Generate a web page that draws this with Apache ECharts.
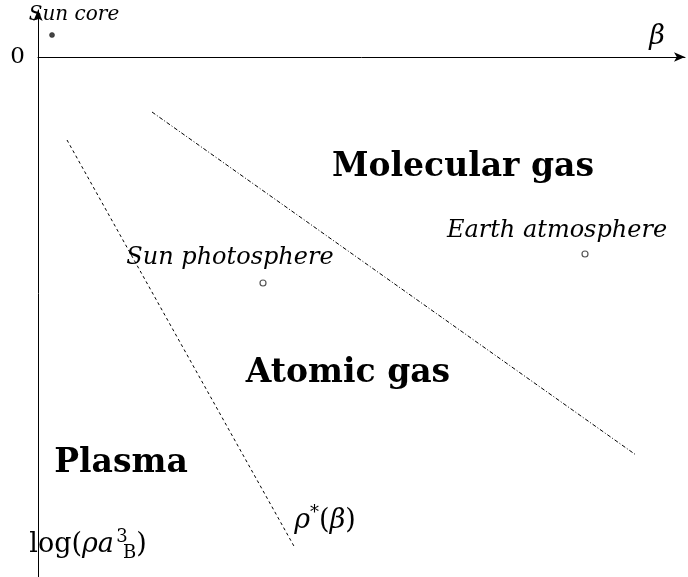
<!DOCTYPE html>
<html><head><meta charset="utf-8">
<script src="https://cdn.jsdelivr.net/npm/echarts@6/dist/echarts.min.js"></script>
<style>html,body{margin:0;padding:0;background:#fff}#c{width:688px;height:577px}</style>
</head><body><div id="c"></div>
<script>
// Data (arbitrary units: beta to the right, log density downward)
const pointsFilled = [[1.4, 2.2]];                    // Sun core
const pointsHollow = [[54.7, -19.7], [22.5, -22.6]];  // Earth atmosphere, Sun photosphere
const rhoStarLine = [[2.9, -8.3], [25.7, -49.1]];
const molecularLine = [[11.4, -5.5], [59.8, -39.8]];
const coreLabel = [{name: 'Sun core', value: [3.6, 4.2]}];
const italicLabels = [
  {name: 'Earth atmosphere', value: [51.9, -17.4]},
  {name: 'Sun photosphere', value: [19.2, -20.1]}
];
const regionLabels = [
  {name: 'Molecular gas', value: [42.5, -11.0]},
  {name: 'Atomic gas', value: [31.0, -31.6]},
  {name: 'Plasma', value: [8.3, -40.6]}
];
const mathLabels = [
  {name: 'rho', value: [28.7, -46.4]},
  {name: 'log', value: [5.0, -48.8]},
  {name: 'beta', value: [61.9, 2.0]}
];
const yTickLabels = ['0'];

const serif = '"DejaVu Serif", "Liberation Serif", serif';
const chart = echarts.init(document.getElementById('c'));
const mathFmt = {
  rho: '{i|ρ}{sup|*}{n|(}{i|β}{n|)}',
  log: '{n|log(}{i|ρa}{sup0|3}{sb|B}{n|)}',
  beta: '{i|β}'
};
const solid = {opacity: 1};
chart.setOption({
  animation: false,
  grid: {left: 38, right: 3, top: 10, bottom: 0},
  xAxis: {type: 'value', min: 0, max: 64.7,
    axisLine: {onZero: true, lineStyle: {color: '#000', width: 1}, symbol: ['none', 'arrow'], symbolSize: [7, 11]},
    axisTick: {show: false}, axisLabel: {show: false}, splitLine: {show: false}},
  yAxis: {type: 'value', min: -52, max: 4.7, interval: 4,
    axisLine: {show: true, onZero: false, lineStyle: {color: '#000', width: 1}, symbol: ['none', 'arrow'], symbolSize: [7, 11]},
    axisTick: {show: false}, splitLine: {show: false},
    axisLabel: {margin: 13, color: '#000', fontFamily: serif, fontSize: 23,
      formatter: v => (v === 0 ? yTickLabels[0] : '')}},
  series: [
    {type: 'line', data: rhoStarLine, symbol: 'none', lineStyle: {color: '#000', width: 1, type: [3, 3]}},
    {type: 'line', data: molecularLine, symbol: 'none', lineStyle: {color: '#000', width: 1, type: [4, 2, 1, 2]}},
    {type: 'scatter', data: pointsFilled, symbol: 'circle', symbolSize: 5,
      itemStyle: {color: '#444', borderColor: '#222', borderWidth: 0.5, opacity: 1}},
    {type: 'scatter', data: pointsHollow, symbol: 'circle', symbolSize: 6,
      itemStyle: {color: '#fff', borderColor: '#555', borderWidth: 1.2, opacity: 1}},
    {type: 'scatter', data: coreLabel, symbolSize: 0, itemStyle: solid,
      label: {show: true, position: 'inside', formatter: p => p.name, color: '#000',
        fontFamily: serif, fontStyle: 'italic', fontSize: 20}},
    {type: 'scatter', data: italicLabels, symbolSize: 0, itemStyle: solid,
      label: {show: true, position: 'inside', formatter: p => p.name, color: '#000',
        fontFamily: serif, fontStyle: 'italic', fontSize: 24}},
    {type: 'scatter', data: regionLabels, symbolSize: 0, itemStyle: solid,
      label: {show: true, position: 'inside', formatter: p => p.name, color: '#000',
        fontFamily: serif, fontWeight: 'bold', fontSize: 33}},
    {type: 'scatter', data: mathLabels, symbolSize: 0, itemStyle: solid,
      label: {show: true, position: 'inside', formatter: p => mathFmt[p.name], color: '#000',
        rich: {
          n: {fontFamily: serif, fontSize: 27, color: '#000'},
          i: {fontFamily: serif, fontStyle: 'italic', fontSize: 27, color: '#000'},
          sup: {fontFamily: serif, fontSize: 18, color: '#000', padding: [0, 0, 16, 0]},
          sup0: {fontFamily: serif, fontSize: 18, color: '#000', padding: [0, 0, 16, 7], width: 2},
          sb: {fontFamily: serif, fontSize: 18, color: '#000', padding: [17, 0, 0, 0]}
        }}}
  ]
});
</script></body></html>
